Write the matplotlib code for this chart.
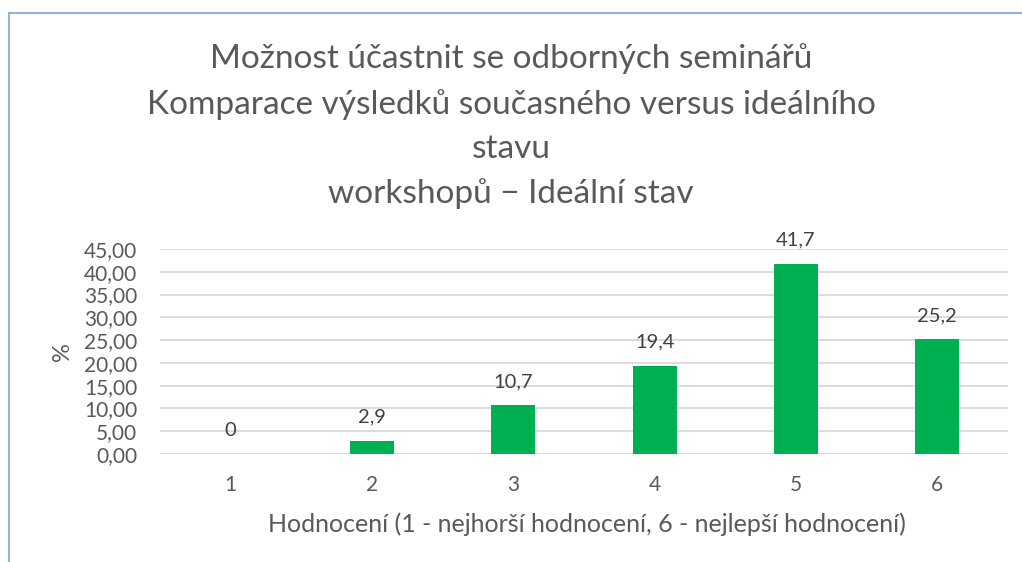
import matplotlib.pyplot as plt
from matplotlib.patches import Rectangle
import numpy as np

categories = ["1", "2", "3", "4", "5", "6"]
values = [0.0, 2.9, 10.7, 19.4, 41.7, 25.2]
value_labels = ["0", "2,9", "10,7", "19,4", "41,7", "25,2"]
title_lines = [
	"Možnost účastnit se odborných seminářů",
	"Komparace výsledků současného versus ideálního",
	"stavu",
	"workshopů \u2212 Ideální stav",
]
yticks = np.arange(0, 50, 5)

plt.rcParams['font.family'] = ['Lato', 'DejaVu Sans']
TXT = "#595959"
W, H = 1022, 562

fig = plt.figure(figsize=(W / 100, H / 100), dpi=100)
ax = fig.add_axes([160 / W, 1 - 454 / H, 848 / W, 205 / H])

x = np.arange(len(categories))
ax.bar(x, values, width=0.31, color="#00B050", zorder=3)
for xi, v, lab in zip(x, values, value_labels):
	ax.annotate(lab, (xi, v), xytext=(0, 11), textcoords="offset points",
				ha="center", va="bottom", fontsize=14.5, color="#404040")

ax.set_xlim(-0.5, len(categories) - 0.5)
ax.set_ylim(0, 45)
ax.set_yticks(yticks)
ax.set_yticklabels([f"{t:.2f}".replace(".", ",") for t in yticks])
ax.set_xticks(x)
ax.set_xticklabels(categories)
ax.tick_params(length=0, labelsize=15, labelcolor=TXT)
ax.tick_params(axis="x", pad=15)
ax.tick_params(axis="y", pad=16.5)
ax.grid(axis="y", color="#D9D9D9", linewidth=1.3, zorder=0)
for s in ax.spines.values():
	s.set_visible(False)

fig.text(587 / W, 1 - 524 / H, "Hodnocení (1 - nejhorší hodnocení, 6 - nejlepší hodnocení)",
		 ha="center", va="center", fontsize=18, color=TXT)
fig.text(62 / W, 1 - 352 / H, "%", rotation=90, ha="center", va="center",
		 fontsize=17, color=TXT)

for yy, line in zip([59, 105, 149, 194], title_lines):
	fig.text(511 / W, 1 - yy / H, line, ha="center", va="center", fontsize=24, color=TXT)

fig.patches.append(Rectangle((9 / W, -0.1), 1.1, 1 - 13 / H + 0.1, transform=fig.transFigure,
							 fill=False, edgecolor="#95B3D7", linewidth=1.5))

fig.savefig("out.png", dpi=100)
